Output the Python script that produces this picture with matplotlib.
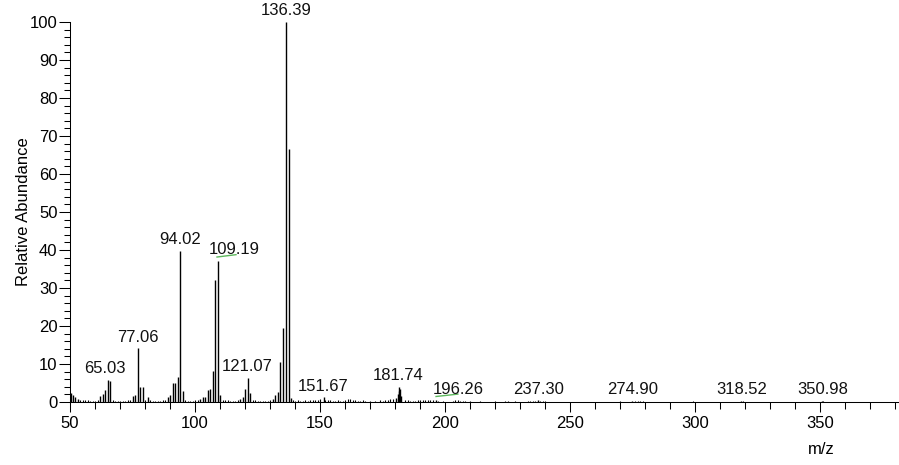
import matplotlib.pyplot as plt
from matplotlib.ticker import MultipleLocator

# main peaks (m/z, relative abundance)
peak_mz = [50.4, 51.2, 52.0, 53.0,
           62.0, 63.0, 63.8, 65.03, 66.0,
           75.0, 76.0, 77.06, 78.0, 79.0, 81.0,
           89.0, 90.0, 91.0, 92.0, 93.0, 94.02, 95.0,
           102.0, 103.0, 104.0, 105.0, 106.0, 107.0, 108.0, 109.19, 110.0,
           118.0, 119.0, 120.0, 121.07, 122.0,
           131.0, 132.0, 133.0, 134.0, 135.0, 136.39, 137.4, 138.5,
           151.67, 180.5, 181.0, 181.4, 181.74, 182.1, 182.5,
           196.26, 237.30, 274.90, 318.52, 350.98]
peak_int = [2.4, 1.8, 1.3, 0.8,
            1.6, 2.0, 3.2, 5.8, 5.5,
            1.6, 1.8, 14.2, 3.9, 3.9, 1.2,
            1.4, 1.8, 4.9, 4.9, 6.5, 39.8, 3.0,
            0.8, 1.2, 1.4, 3.2, 3.4, 8.2, 32.1, 37.2, 1.8,
            0.8, 1.3, 3.3, 6.4, 2.3,
            0.8, 1.8, 2.7, 10.4, 19.4, 100.0, 66.6, 1.0,
            1.2, 1.0, 2.2, 3.0, 4.0, 3.5, 1.5,
            0.5, 0.4, 0.3, 0.3, 0.3]

# small baseline peaks
noise_mz = [54, 55, 56, 57, 58, 59, 60, 61, 67, 68, 69, 70, 71, 72, 73, 74,
            80, 82, 83, 84, 85, 86, 87, 88, 96, 97, 98, 99, 100, 101,
            111, 112, 113, 114, 115, 116, 117, 123, 124, 125, 126, 127, 128, 129, 130,
            139, 140, 141, 142, 143, 144, 145, 146, 147, 148, 149, 150, 152, 153,
            154, 155, 156, 157, 158, 159, 160, 161, 162, 163, 164, 165, 166, 167,
            168, 170, 172, 174, 175, 176, 177, 178, 179, 184, 185, 186, 187, 188,
            189, 190, 191, 192, 193, 194, 195, 197, 199, 203, 204, 205, 206, 207,
            208, 210, 214, 220, 224, 225, 228, 233, 234, 235, 236, 238, 239, 240,
            270, 276, 277, 278, 279, 299, 319, 351]
noise_int = [0.6, 0.5, 0.4, 0.4, 0.3, 0.3, 0.3, 0.5, 0.4, 0.3, 0.3, 0.3, 0.3, 0.3, 0.4, 0.6,
             0.5, 0.4, 0.3, 0.3, 0.3, 0.3, 0.4, 0.5, 0.5, 0.3, 0.3, 0.3, 0.4, 0.6,
             0.6, 0.4, 0.4, 0.3, 0.3, 0.3, 0.4, 0.6, 0.4, 0.3, 0.3, 0.3, 0.3, 0.3, 0.5,
             0.5, 0.3, 0.4, 0.3, 0.3, 0.4, 0.3, 0.4, 0.5, 0.4, 0.6, 0.7, 0.5, 0.4,
             0.4, 0.3, 0.3, 0.4, 0.3, 0.3, 0.6, 0.8, 0.7, 0.6, 0.4, 0.3, 0.3, 0.4,
             0.3, 0.3, 0.3, 0.4, 0.3, 0.4, 0.6, 0.7, 0.8, 0.5, 0.4, 0.3, 0.3, 0.3,
             0.4, 0.5, 0.6, 0.5, 0.6, 0.4, 0.5, 0.3, 0.3, 0.3, 0.4, 0.4, 0.3, 0.3,
             0.3, 0.2, 0.2, 0.2, 0.2, 0.3, 0.2, 0.3, 0.3, 0.3, 0.3, 0.3, 0.3, 0.2,
             0.2, 0.3, 0.2, 0.3, 0.3, 0.2, 0.2, 0.2]

labels = [65.03, 77.06, 94.02, 109.19, 121.07, 136.39, 151.67, 181.74,
          196.26, 237.30, 274.90, 318.52, 350.98]

plt.rcParams['font.family'] = ['Liberation Sans', 'DejaVu Sans']
plt.rcParams['font.size'] = 12

fig = plt.figure(figsize=(8.99, 4.65), dpi=100)
ax = fig.add_axes([70/899, 1 - 402/465, 827.5/899, 380/465])

ax.vlines(noise_mz, 0, noise_int, color='black', linewidth=0.8)
ax.vlines(peak_mz, 0, peak_int, color='black', linewidth=1.0)

ax.set_xlim(50, 381)
ax.set_ylim(0, 100)

# some labels are pushed right of their peak (points)
shift = {109.19: 12, 196.26: 16, 65.03: -2, 151.67: -1, 181.74: -1}
for mz in labels:
    h = peak_int[peak_mz.index(mz)]
    dx = shift.get(mz, 0)
    ax.annotate('%.2f' % mz, (mz, h), xytext=(dx, 4.7),
                textcoords='offset points', ha='center', va='baseline',
                color='#111111', annotation_clip=False)

# green squiggles under two of the labels (offsets in points from peak top)
pts = fig.dpi / 72.0
for mz, x0, x1 in [(109.19, -0.7, 13), (196.26, 0.3, 16)]:
    h = peak_int[peak_mz.index(mz)]
    px, py = ax.transData.transform((mz, h))
    ax.plot([px + x0 * pts, px + x1 * pts],
            [py + 2.6 * pts, py + 4.3 * pts],
            color='#5cb85c', lw=1.0, transform=None, clip_on=False)

ax.spines['top'].set_visible(False)
ax.spines['right'].set_visible(False)
ax.spines['left'].set_linewidth(0.75)
ax.spines['bottom'].set_linewidth(0.75)

ax.xaxis.set_major_locator(MultipleLocator(50))
ax.xaxis.set_minor_locator(MultipleLocator(10))
ax.yaxis.set_major_locator(MultipleLocator(10))
ax.yaxis.set_minor_locator(MultipleLocator(2))
ax.tick_params(axis='x', which='major', length=7, width=0.75, pad=3)
ax.tick_params(axis='x', which='minor', length=5, width=0.75)
ax.tick_params(axis='y', which='major', length=8, width=0.75, pad=1)
ax.tick_params(axis='y', which='minor', length=4, width=0.75)

ax.set_ylabel('Relative Abundance')
ax.yaxis.set_label_coords(-0.047, 0.5)
ax.set_xlabel('m/z')
ax.xaxis.set_label_coords(0.9075, -0.105)

fig.savefig('out.png', dpi=100)
